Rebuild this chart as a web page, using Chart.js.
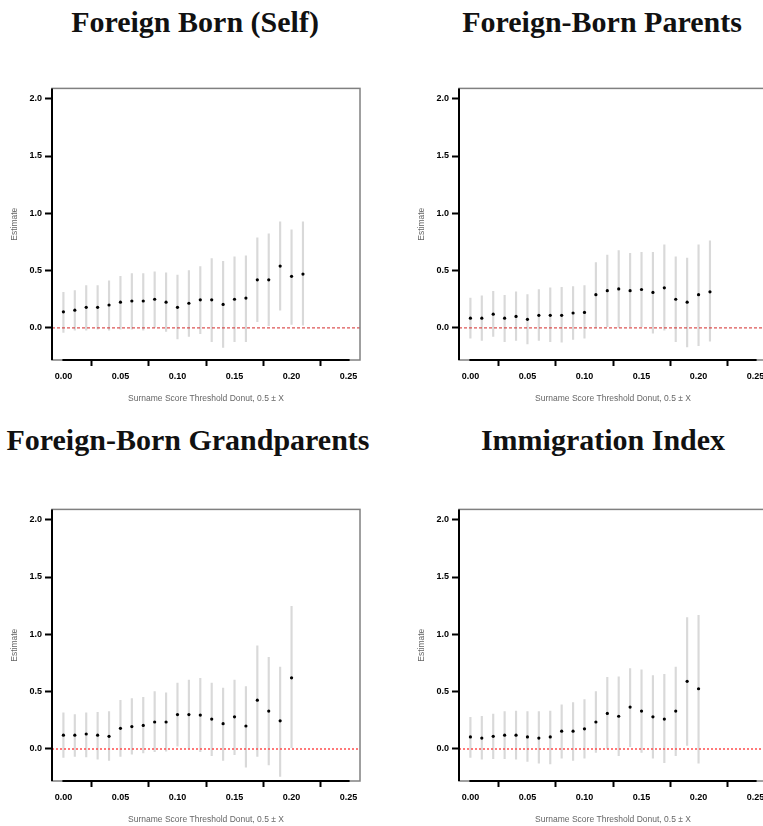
<!DOCTYPE html>
<html>
<head>
<meta charset="utf-8">
<script src="https://cdn.jsdelivr.net/npm/chart.js@4/dist/chart.umd.min.js"></script>
<style>
  html, body { margin: 0; padding: 0; background: #fff; overflow: hidden; width: 763px; height: 826px; }
  .panel-title { position: absolute; width: 420px; text-align: center; font-family: "Liberation Serif", serif; font-weight: bold; font-size: 30px; line-height: 30px; color: #111; white-space: nowrap; }
  canvas { position: absolute; }
</style>
</head>
<body>
<div class="panel-title" style="left:-15px; top:7px;">Foreign Born (Self)</div>
<div class="panel-title" style="left:392px; top:7px;">Foreign-Born Parents</div>
<div class="panel-title" style="left:-22px; top:425px;">Foreign-Born Grandparents</div>
<div class="panel-title" style="left:393px; top:425px;">Immigration Index</div>
<canvas id="c1" width="390" height="330" style="left:0px; top:80px; width:390px; height:330px;"></canvas>
<canvas id="c2" width="390" height="330" style="left:407px; top:80px; width:390px; height:330px;"></canvas>
<canvas id="c3" width="390" height="330" style="left:0px; top:501px; width:390px; height:330px;"></canvas>
<canvas id="c4" width="390" height="330" style="left:407px; top:501px; width:390px; height:330px;"></canvas>
<script>
// Surname score threshold donut widths (X in 0.5 ± X)
const thresholds = [0.00, 0.01, 0.02, 0.03, 0.04, 0.05, 0.06, 0.07, 0.08, 0.09, 0.10,
                    0.11, 0.12, 0.13, 0.14, 0.15, 0.16, 0.17, 0.18, 0.19, 0.20, 0.21];
const xTicks = [0.00, 0.05, 0.10, 0.15, 0.20, 0.25];
const yTicks = [0.0, 0.5, 1.0, 1.5, 2.0];

// Foreign born (self)
const selfEst = [0.14, 0.155, 0.18, 0.18, 0.20, 0.225, 0.235, 0.235, 0.25, 0.225, 0.18,
                 0.215, 0.245, 0.245, 0.205, 0.25, 0.26, 0.42, 0.42, 0.54, 0.45, 0.47];
const selfLo  = [-0.04, -0.02, -0.02, -0.01, -0.02, -0.01, -0.01, -0.02, 0.00, -0.03, -0.095,
                 -0.075, -0.05, -0.12, -0.17, -0.12, -0.12, 0.055, 0.02, 0.155, 0.03, 0.025];
const selfHi  = [0.31, 0.325, 0.37, 0.37, 0.41, 0.45, 0.475, 0.475, 0.49, 0.48, 0.46,
                 0.50, 0.535, 0.605, 0.58, 0.62, 0.63, 0.785, 0.82, 0.925, 0.855, 0.925];

// Foreign-born parents
const parentsEst = [0.085, 0.085, 0.12, 0.085, 0.10, 0.075, 0.11, 0.11, 0.11, 0.13, 0.135,
                    0.29, 0.325, 0.34, 0.325, 0.335, 0.31, 0.35, 0.25, 0.225, 0.29, 0.315];
const parentsLo  = [-0.09, -0.11, -0.075, -0.12, -0.11, -0.14, -0.11, -0.12, -0.125, -0.10, -0.09,
                    0.005, 0.01, 0.00, 0.01, 0.01, -0.045, -0.02, -0.12, -0.165, -0.155, -0.115];
const parentsHi  = [0.26, 0.28, 0.32, 0.285, 0.315, 0.29, 0.335, 0.35, 0.355, 0.36, 0.37,
                    0.57, 0.635, 0.675, 0.65, 0.66, 0.66, 0.725, 0.62, 0.61, 0.725, 0.76];

// Foreign-born grandparents
const grandEst = [0.12, 0.12, 0.13, 0.12, 0.11, 0.18, 0.195, 0.205, 0.235, 0.235, 0.30,
                  0.30, 0.295, 0.26, 0.22, 0.28, 0.20, 0.425, 0.33, 0.245, 0.62];
const grandLo  = [-0.075, -0.065, -0.07, -0.09, -0.10, -0.065, -0.045, -0.035, -0.025, -0.02, 0.025,
                  0.00, -0.025, -0.06, -0.10, -0.05, -0.16, -0.065, -0.14, -0.24, 0.01];
const grandHi  = [0.315, 0.30, 0.315, 0.32, 0.325, 0.425, 0.44, 0.45, 0.50, 0.49, 0.575,
                  0.60, 0.615, 0.575, 0.53, 0.60, 0.545, 0.90, 0.80, 0.715, 1.245];

// Immigration index
const indexEst = [0.105, 0.095, 0.11, 0.12, 0.12, 0.105, 0.095, 0.105, 0.155, 0.155, 0.175,
                  0.235, 0.31, 0.285, 0.365, 0.33, 0.28, 0.26, 0.33, 0.59, 0.525];
const indexLo  = [-0.075, -0.09, -0.085, -0.085, -0.09, -0.11, -0.125, -0.13, -0.08, -0.10, -0.08,
                  -0.03, 0.00, -0.06, 0.02, -0.03, -0.08, -0.12, -0.06, 0.03, -0.125];
const indexHi  = [0.275, 0.285, 0.305, 0.325, 0.33, 0.325, 0.325, 0.33, 0.385, 0.405, 0.43,
                  0.50, 0.625, 0.63, 0.70, 0.69, 0.64, 0.65, 0.715, 1.145, 1.165];

const X_MIN = -0.01, X_MAX = 0.26, Y_MIN = -0.28, Y_MAX = 2.09;

// Box around the plotting region: grey frame with black axis segments
const framePlugin = {
  id: 'frame',
  afterDatasetsDraw(chart) {
    const { ctx, chartArea: a, scales } = chart;
    ctx.save();
    ctx.strokeStyle = '#808080';
    ctx.lineWidth = 1.5;
    ctx.strokeRect(a.left, a.top, a.right - a.left, a.bottom - a.top);
    ctx.strokeStyle = '#000';
    ctx.lineWidth = 2;
    ctx.beginPath();
    ctx.moveTo(a.left, a.top);
    ctx.lineTo(a.left, a.bottom);
    const x0 = scales.x.getPixelForValue(xTicks[0]);
    const x1 = scales.x.getPixelForValue(xTicks[xTicks.length - 1]);
    ctx.moveTo(x0 - 1, a.bottom);
    ctx.lineTo(x1 + 1, a.bottom);
    ctx.stroke();
    ctx.restore();
  }
};

function makePanel(id, est, lo, hi, zeroStyle) {
  const n = est.length;
  const xs = thresholds.slice(0, n);
  const points = xs.map((x, i) => ({ x: x, y: est[i] }));
  const intervals = xs.map((x, i) => ({ x: x, y: [lo[i], hi[i]] }));
  const zeroLine = [{ x: X_MIN, y: 0 }, { x: X_MAX, y: 0 }];
  const tickFont = { family: 'Liberation Sans', size: 9, weight: 'bold' };
  const titleFont = { family: 'Liberation Sans', size: 8.5 };

  new Chart(document.getElementById(id), {
    type: 'scatter',
    data: {
      datasets: [
        { type: 'scatter', data: points, pointRadius: 1.6, pointBackgroundColor: '#000',
          pointBorderWidth: 0, order: 0 },
        { type: 'line', data: zeroLine, borderColor: zeroStyle.color, borderWidth: zeroStyle.width,
          borderDash: zeroStyle.dash, pointRadius: 0, fill: false, order: 1 },
        { type: 'bar', data: intervals, backgroundColor: '#d9d9d9', barThickness: 1.5,
          borderWidth: 0, order: 2 }
      ]
    },
    options: {
      responsive: false,
      animation: false,
      events: [],
      layout: { padding: { top: 5, right: 30, left: 0, bottom: 0 } },
      plugins: { legend: { display: false }, tooltip: { enabled: false } },
      scales: {
        x: {
          type: 'linear', min: X_MIN, max: X_MAX, offset: false,
          afterFit(s) { s.height = 50; },
          afterBuildTicks(s) { s.ticks = xTicks.map(v => ({ value: v })); },
          border: { display: false },
          grid: { display: true, drawOnChartArea: false, drawTicks: true, tickLength: 6,
                  tickColor: '#000', tickWidth: 2 },
          ticks: { font: tickFont, color: '#000', padding: 5, maxRotation: 0,
                   callback: v => v.toFixed(2) },
          title: { display: true, text: 'Surname Score Threshold Donut, 0.5 \u00b1 X',
                   font: titleFont, color: '#666', padding: { top: 0, bottom: 6 } }
        },
        y: {
          type: 'linear', min: Y_MIN, max: Y_MAX,
          afterFit(s) { s.width = 52; },
          afterBuildTicks(s) { s.ticks = yTicks.map(v => ({ value: v })); },
          border: { display: false },
          grid: { display: true, drawOnChartArea: false, drawTicks: true, tickLength: 7,
                  tickColor: '#000', tickWidth: 2 },
          ticks: { font: tickFont, color: '#000', padding: 3,
                   callback: v => v.toFixed(1) },
          title: { display: true, text: 'Estimate', font: titleFont, color: '#666',
                   padding: { top: 10, bottom: 0 } }
        }
      }
    },
    plugins: [framePlugin]
  });
}

const topZero = { color: '#d42a2a', width: 1, dash: [3, 2] };
const bottomZero = { color: '#ff4d4d', width: 1.5, dash: [2, 2] };

makePanel('c1', selfEst, selfLo, selfHi, topZero);
makePanel('c2', parentsEst, parentsLo, parentsHi, topZero);
makePanel('c3', grandEst, grandLo, grandHi, bottomZero);
makePanel('c4', indexEst, indexLo, indexHi, bottomZero);
</script>
</body>
</html>
